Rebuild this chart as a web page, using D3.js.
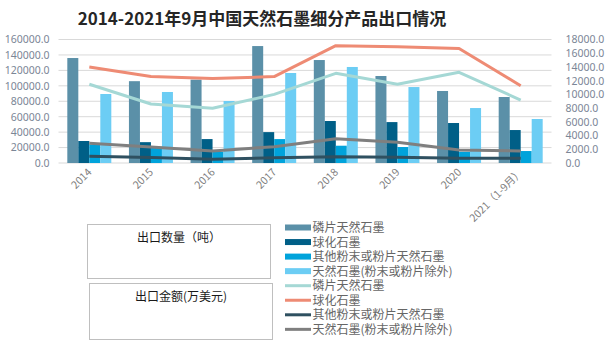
<!DOCTYPE html>
<html lang="zh">
<head>
<meta charset="UTF-8">
<title>2014-2021年9月中国天然石墨细分产品出口情况</title>
<script src="https://d3js.org/d3.v7.min.js"></script>
<style>
  body { margin: 0; background: #fff; }
  text { font-family: "Noto Sans CJK SC", "Noto Sans", sans-serif; }
</style>
</head>
<body>
<div id="chart"></div>
<script>
// categories
const years = ["2014", "2015", "2016", "2017", "2018", "2019", "2020", "2021（1-9月）"];
// export volume (tons) - bars, left axis
const volFlake   = [136000, 106000, 108000, 151500, 133400, 112700, 93300, 85500];
const volSpher   = [28500, 27000, 31000, 40000, 54400, 53000, 51800, 42700];
const volOther   = [24000, 21000, 14600, 31000, 22400, 20700, 14600, 15500];
const volNatural = [89400, 92000, 80300, 116600, 124400, 98400, 71200, 57000];
// export value (10k USD) - lines, right axis
const valFlake   = [11470, 8600, 7970, 10000, 13070, 11470, 13220, 9180];
const valSpher   = [14000, 12600, 12300, 12600, 17100, 16950, 16700, 11270];
const valOther   = [1000, 800, 550, 750, 900, 850, 700, 700];
const valNatural = [2870, 2330, 1750, 2380, 3550, 3010, 1900, 1750];
// ticks
const leftTicks = [0, 20000, 40000, 60000, 80000, 100000, 120000, 140000, 160000];
const rightTicks = [0, 2000, 4000, 6000, 8000, 10000, 12000, 14000, 16000, 18000];

const barSeries = [
  { name: "磷片天然石墨", values: volFlake, color: "#5b90a8" },
  { name: "球化石墨", values: volSpher, color: "#005f87" },
  { name: "其他粉末或粉片天然石墨", values: volOther, color: "#00a3db" },
  { name: "天然石墨(粉末或粉片除外)", values: volNatural, color: "#6ccdf4" }
];
const lineSeries = [
  { name: "磷片天然石墨", values: valFlake, color: "#a5d8d5" },
  { name: "球化石墨", values: valSpher, color: "#ee8b74" },
  { name: "其他粉末或粉片天然石墨", values: valOther, color: "#2f5060" },
  { name: "天然石墨(粉末或粉片除外)", values: valNatural, color: "#7f7f7f" }
];

const W = 605, H = 354;
const plot = { left: 58.5, right: 551.5, top: 39.5, bottom: 163 };

const svg = d3.select("#chart").append("svg")
  .attr("width", W).attr("height", H);

const x = d3.scaleBand().domain(years)
  .range([plot.left, plot.right]).paddingInner(0.286).paddingOuter(0.143);
const xs = d3.scaleBand().domain(d3.range(barSeries.length))
  .range([0, x.bandwidth()]);
const yL = d3.scaleLinear().domain([0, 160000]).range([plot.bottom, plot.top]);
const yR = d3.scaleLinear().domain([0, 18000]).range([plot.bottom, plot.top]);

// gridlines
svg.append("g").selectAll("line").data(leftTicks).join("line")
  .attr("x1", plot.left).attr("x2", plot.right)
  .attr("y1", d => yL(d)).attr("y2", d => yL(d))
  .attr("stroke", "#d9d9d9").attr("stroke-width", 1);

// left axis
const axL = svg.append("g").attr("transform", `translate(${plot.left - 6},0)`)
  .call(d3.axisLeft(yL).tickValues(leftTicks).tickSize(0).tickFormat(d3.format(".1f")));
axL.select(".domain").remove();
axL.selectAll("text").attr("fill", "#7b8696").attr("font-size", "10.5px")
  .style("font-family", "'Noto Sans', sans-serif");

// right axis
const axR = svg.append("g").attr("transform", `translate(${plot.right + 11},0)`)
  .call(d3.axisRight(yR).tickValues(rightTicks).tickSize(0).tickFormat(d3.format(".1f")));
axR.select(".domain").remove();
axR.selectAll("text").attr("fill", "#7b8696").attr("font-size", "10.5px")
  .style("font-family", "'Noto Sans', sans-serif");

// bars
barSeries.forEach((s, i) => {
  svg.append("g").selectAll("rect").data(s.values).join("rect")
    .attr("x", (d, j) => x(years[j]) + xs(i))
    .attr("width", xs.bandwidth())
    .attr("y", d => yL(d))
    .attr("height", d => yL(0) - yL(d))
    .attr("fill", s.color);
});

// lines
const line = d3.line()
  .x((d, j) => x(years[j]) + x.bandwidth() / 2)
  .y(d => yR(d));
lineSeries.forEach(s => {
  svg.append("path").datum(s.values)
    .attr("d", line)
    .attr("fill", "none")
    .attr("stroke", s.color)
    .attr("stroke-width", 3)
    .attr("stroke-linejoin", "round");
});

// x axis labels (rotated)
svg.append("g").selectAll("text").data(years).join("text")
  .attr("transform", d => `translate(${x(d) + x.bandwidth() / 2 + 3},${plot.bottom + 10}) rotate(-45)`)
  .attr("text-anchor", "end")
  .attr("font-size", "10.5px")
  .attr("fill", "#808080")
  .text(d => d);

// title
svg.append("text")
  .attr("x", 262).attr("y", 25)
  .attr("text-anchor", "middle")
  .attr("font-size", "17px")
  .attr("font-weight", "bold")
  .attr("fill", "#262626")
  .text("2014-2021年9月中国天然石墨细分产品出口情况");

// group boxes
const boxes = [
  { label: "出口数量（吨）", x: 87.5, y: 224.5, w: 183, h: 54, ty: 242 },
  { label: "出口金额(万美元)", x: 89.5, y: 283.5, w: 183, h: 56, ty: 301 }
];
boxes.forEach(b => {
  svg.append("rect").attr("x", b.x).attr("y", b.y)
    .attr("width", b.w).attr("height", b.h)
    .attr("fill", "none").attr("stroke", "#bfbfbf").attr("stroke-width", 1);
  svg.append("text").attr("x", b.x + b.w / 2).attr("y", b.ty)
    .attr("text-anchor", "middle").attr("font-size", "12px")
    .attr("fill", "#1a1a1a").text(b.label);
});

// legend
const legendItems = barSeries.map(s => ({ ...s, type: "bar" }))
  .concat(lineSeries.map(s => ({ ...s, type: "line" })));
const lg = svg.append("g");
legendItems.forEach((d, i) => {
  const cy = 227.5 + i * 14.55;
  if (d.type === "bar") {
    lg.append("rect").attr("x", 285).attr("y", cy - 3).attr("width", 26).attr("height", 6)
      .attr("fill", d.color);
  } else {
    lg.append("line").attr("x1", 285).attr("x2", 311).attr("y1", cy).attr("y2", cy)
      .attr("stroke", d.color).attr("stroke-width", 3);
  }
  lg.append("text").attr("x", 312.5).attr("y", cy + 4.5)
    .attr("font-size", "12px").attr("fill", "#666")
    .text(d.name);
});
</script>
</body>
</html>
